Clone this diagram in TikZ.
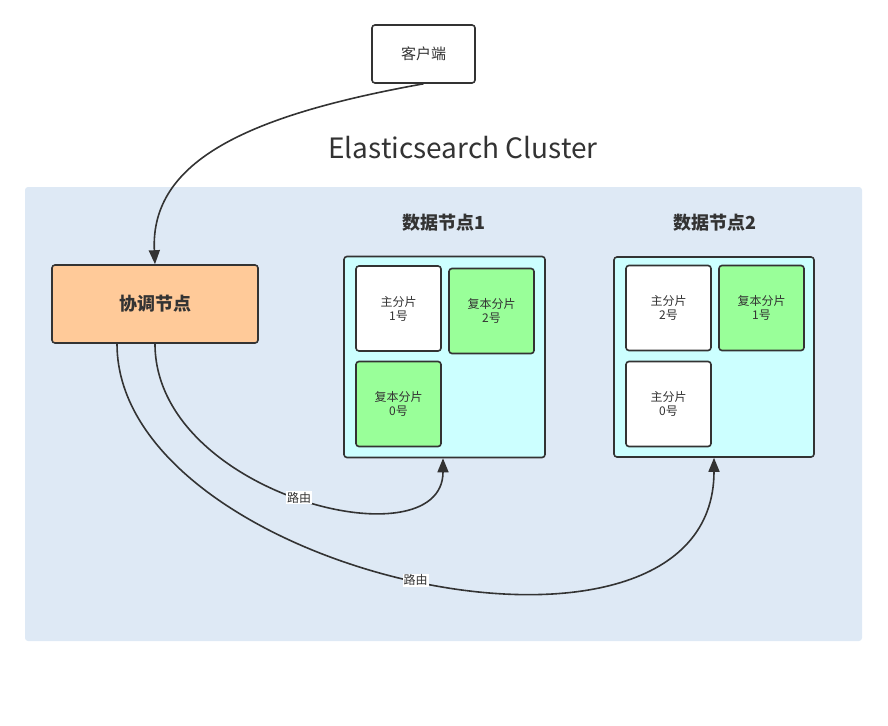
\documentclass[tikz,border=0pt]{standalone}
\usepackage{fontspec}
\setmainfont{Noto Sans CJK SC}
\usepackage{tikz}
\usetikzlibrary{arrows.meta}
\definecolor{ink}{HTML}{333333}
\definecolor{clusterbg}{HTML}{DEE9F5}
\definecolor{datafill}{HTML}{CCFFFF}
\definecolor{replicafill}{HTML}{99FF99}
\definecolor{coordfill}{HTML}{FFCA99}
\tikzset{every edge/.style={draw}}
\tikzset{
  box/.style={draw=ink, line width=1.6pt, rounded corners=3pt},
  shard/.style={box, minimum width=85pt, minimum height=85pt, inner sep=0pt,
    align=center, font=\fontsize{12}{14}\selectfont, text=ink, fill=white},
  replica/.style={shard, fill=replicafill},
  route/.style={draw=ink, line width=1.6pt, -{Triangle[length=14pt,width=11pt]}},
  routelabel/.style={fill=white, inner sep=1pt, font=\fontsize{12}{14}\selectfont, text=ink},
}

\begin{document}
\begin{tikzpicture}[x=1pt, y=-1pt]
  \useasboundingbox (0, 0) rectangle (888, 725);

  % cluster
  \fill[clusterbg, rounded corners=3pt] (25, 187) rectangle (862, 641);
  \node[text=ink, font=\fontsize{28}{32}\selectfont] at (463, 148) (title) {Elasticsearch Cluster};

  % client and coordinator
  \node[box, fill=white, minimum width=103pt, minimum height=58pt, text=ink,
    font=\fontsize{15}{18}\selectfont] at (423.5, 54) (client) {客户端};
  \node[box, fill=coordfill, minimum width=206pt, minimum height=78pt, text=ink,
    font=\fontsize{18}{22}\selectfont\bfseries] at (155, 304) (coord) {协调节点};

  % data node 1
  \node[text=ink, font=\fontsize{18}{22}\selectfont\bfseries] at (444, 223) (dn1title) {数据节点1};
  \node[box, fill=datafill, minimum width=201pt, minimum height=201pt] at (444.5, 357) (dn1) {};
  \node[shard] at (398.5, 308.5) (p1) {主分片\\1号};
  \node[replica] at (491.5, 311) (r2) {复本分片\\2号};
  \node[replica] at (398.5, 404) (r0) {复本分片\\0号};

  % data node 2
  \node[text=ink, font=\fontsize{18}{22}\selectfont\bfseries] at (715, 223) (dn2title) {数据节点2};
  \node[box, fill=datafill, minimum width=200pt, minimum height=200pt] at (714, 357) (dn2) {};
  \node[shard] at (668.5, 308) (p2) {主分片\\2号};
  \node[replica] at (761.5, 308) (r1) {复本分片\\1号};
  \node[shard] at (668.5, 404) (p0) {主分片\\0号};

  % request paths
  \draw[route] (client.south) .. controls (250, 115) and (150, 160) .. (coord.north);
  \draw[route] (coord.south) ++(0, 0) coordinate (c1)
    (c1) .. controls (155, 495) and (443, 565) .. node[routelabel, pos=0.5] {路由} (dn1.south -| 443, 0);
  \draw[route] (coord.south) ++(-38, 0) coordinate (c2)
    (c2) .. controls (117, 575) and (714, 705) .. node[routelabel, pos=0.5] {路由} (dn2.south);
\end{tikzpicture}
\end{document}
